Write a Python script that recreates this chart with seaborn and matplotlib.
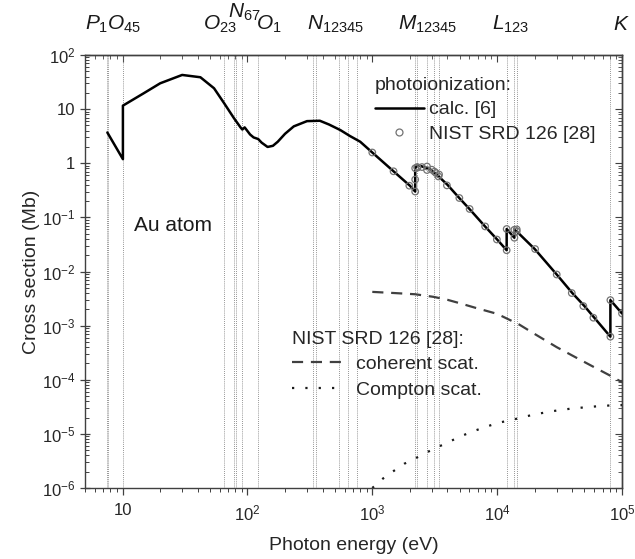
import matplotlib
matplotlib.use("Agg")
import matplotlib.pyplot as plt
from matplotlib.lines import Line2D
from matplotlib import ticker
import numpy as np
import pandas as pd
import seaborn as sns

# photoionization, calc. [6]
calc_energy = [7.55, 10.06, 10.06, 14.8, 20, 30, 42, 54, 65, 78, 88, 91, 95, 105, 112,
               122, 130, 145, 160, 175, 200, 235, 300, 380, 450, 555, 660, 800, 1000,
               1480, 2000, 2206, 2206, 2300, 2900, 3400, 4000, 5000, 6000, 8000, 10000,
               11919, 11919, 13734, 13734, 14353, 20000, 30000, 40000, 50000, 60000,
               80725, 80725, 100000]
calc_cs = [3.7, 1.19, 11.6, 19.7, 30, 42.8, 38.8, 24.3, 12.9, 6.8, 4.6, 4.2, 4.6, 3.4, 3.0,
           2.8, 2.4, 2.0, 2.1, 2.5, 3.5, 4.8, 6.0, 6.1, 5.2, 4.1, 3.2, 2.5, 1.58,
           0.71, 0.385, 0.30, 0.81, 0.93, 0.78, 0.57, 0.40, 0.225, 0.143, 0.068, 0.039,
           0.0247, 0.061, 0.042, 0.059, 0.055, 0.026, 0.0088, 0.004, 0.0023, 0.0014,
           0.000625, 0.00296, 0.00168]

# NIST SRD 126 [28] photoionization points
nist_energy = [1000, 1480, 1980, 2206, 2206, 2206, 2291, 2300, 2500, 2743, 2743, 3000,
               3148, 3240, 3390, 3425, 3960, 4980, 6020, 8017, 9950, 11919, 11919,
               13734, 13734, 14353, 14353, 20140, 30000, 39600, 49000, 59000, 80725,
               80725, 100000]
nist_cs = [1.58, 0.71, 0.385, 0.30, 0.50, 0.81, 0.85, 0.83, 0.85, 0.87, 0.75, 0.76,
           0.70, 0.66, 0.57, 0.62, 0.39, 0.228, 0.143, 0.068, 0.039, 0.0247, 0.061,
           0.042, 0.059, 0.055, 0.060, 0.026, 0.0088, 0.004, 0.0023, 0.0014, 0.000625,
           0.00296, 0.00168]

# coherent and Compton scattering
coh_energy = [1000, 1500, 2200, 3100, 4000, 5000, 6670, 10000, 15000, 20000, 30000,
              40000, 60000, 80000, 100000]
coh_cs = [4.2e-3, 4.0e-3, 3.8e-3, 3.4e-3, 3.0e-3, 2.6e-3, 2.14e-3, 1.65e-3, 1.05e-3,
          7.0e-4, 4.0e-4, 2.8e-4, 1.7e-4, 1.2e-4, 9e-5]
compton_energy = [1000, 1220, 1500, 1800, 2200, 2700, 3400, 4100, 5100, 6300, 7900,
                  10000, 15000, 20000, 30000, 40000, 60000, 80000, 100000]
compton_cs = [1.0e-6, 1.5e-6, 2.1e-6, 2.8e-6, 3.5e-6, 4.5e-6, 5.8e-6, 7.1e-6, 9.0e-6,
              1.1e-5, 1.32e-5, 1.58e-5, 1.95e-5, 2.3e-5, 2.7e-5, 2.95e-5, 3.2e-5,
              3.35e-5, 3.4e-5]

# ionization thresholds (eV)
edge_energy = [7.45, 7.65, 10.06, 64.6, 78.5, 80.5, 90.7, 122,
               335, 353, 546, 644, 759, 2206, 2291, 2743, 3148, 3425,
               11919, 13734, 14353, 80725]

shell_labels = [r"$\mathit{P}_{\mathrm{1}}\mathit{O}_{\mathrm{45}}$",
                r"$\mathit{O}_{\mathrm{23}}$",
                r"$\mathit{N}_{\mathrm{67}}$",
                r"$\mathit{O}_{\mathrm{1}}$",
                r"$\mathit{N}_{\mathrm{12345}}$",
                r"$\mathit{M}_{\mathrm{12345}}$",
                r"$\mathit{L}_{\mathrm{123}}$",
                r"$\mathit{K}$"]
shell_label_x = [5.0, 43.7, 70.5, 118, 302, 1615, 9120, 84700]
shell_label_y = [1.058, 1.058, 1.087, 1.058, 1.058, 1.058, 1.058, 1.058]

sns.set_style("ticks")
plt.rcParams["font.family"] = ["Liberation Sans", "DejaVu Sans"]
plt.rcParams["mathtext.fontset"] = "custom"
plt.rcParams["mathtext.rm"] = "Liberation Sans"
plt.rcParams["mathtext.it"] = "Liberation Sans:italic"
plt.rcParams["mathtext.bf"] = "Liberation Sans:bold"

fig = plt.figure(figsize=(6.35, 5.59), dpi=100)
ax = fig.add_axes([85 / 635, 1 - 488 / 559, 537 / 635, 433 / 559])
ax.set_xscale("log")
ax.set_yscale("log")

for e in edge_energy:
    ax.axvline(e, color="0.45", lw=0.6, ls=(0, (1, 1.5)), zorder=1)

sns.lineplot(x=calc_energy, y=calc_cs, ax=ax, color="black", lw=1.8,
             estimator=None, sort=False, zorder=3)
sns.scatterplot(x=nist_energy, y=nist_cs, ax=ax, marker="o", s=22,
                facecolor="none", edgecolor="0.45", linewidth=0.9, zorder=4)
sns.lineplot(x=coh_energy, y=coh_cs, ax=ax, color="0.25", lw=1.6,
             ls=(0, (5, 3.5)), estimator=None, sort=False)
sns.lineplot(x=compton_energy, y=compton_cs, ax=ax, color="0.1", lw=1.6,
             ls=(0, (1, 5)), estimator=None, sort=False)

ax.set_xlim(5, 1e5)
ax.set_ylim(1e-6, 1e2)


def decade_fmt(v, pos):
    n = int(round(np.log10(v)))
    if n == 0:
        return "1"
    if n == 1:
        return "10"
    return r"$10^{%d}$" % n


ax.xaxis.set_major_locator(ticker.LogLocator(base=10, numticks=10))
ax.xaxis.set_minor_locator(ticker.LogLocator(base=10, subs=np.arange(2, 10), numticks=20))
ax.yaxis.set_major_locator(ticker.LogLocator(base=10, numticks=20))
ax.yaxis.set_minor_locator(ticker.LogLocator(base=10, subs=np.arange(2, 10), numticks=40))
ax.xaxis.set_major_formatter(ticker.FuncFormatter(decade_fmt))
ax.yaxis.set_major_formatter(ticker.FuncFormatter(decade_fmt))
ax.xaxis.set_minor_formatter(ticker.NullFormatter())
ax.yaxis.set_minor_formatter(ticker.NullFormatter())

ax.tick_params(axis="both", which="major", labelsize=12, length=5, width=0.9, color="0.25")
ax.tick_params(axis="both", which="minor", length=3, width=0.7, color="0.25")
ax.tick_params(axis="x", which="both", direction="out", pad=6)
ax.tick_params(axis="y", which="major", direction="inout", length=7)
ax.tick_params(axis="y", which="minor", direction="in")

top = ax.secondary_xaxis("top")
top.xaxis.set_major_locator(ticker.LogLocator(base=10, numticks=10))
top.xaxis.set_minor_locator(ticker.LogLocator(base=10, subs=np.arange(2, 10), numticks=20))
top.tick_params(which="both", direction="in", labeltop=False, color="0.25")
top.tick_params(which="major", length=5)
top.tick_params(which="minor", length=3)
right = ax.secondary_yaxis("right")
right.yaxis.set_major_locator(ticker.LogLocator(base=10, numticks=20))
right.yaxis.set_minor_locator(ticker.LogLocator(base=10, subs=np.arange(2, 10), numticks=40))
right.tick_params(which="both", direction="in", labelright=False, color="0.25")
right.tick_params(which="major", length=5)
right.tick_params(which="minor", length=3)

for sp in list(ax.spines.values()) + [top.spines["top"], right.spines["right"]]:
    sp.set_color("0.25")
    sp.set_linewidth(1.0)

ax.set_xlabel("Photon energy (eV)", fontsize=14, color="0.15", labelpad=10)
ax.set_ylabel("Cross section (Mb)", fontsize=14, color="0.15", labelpad=1)

trans = ax.get_xaxis_transform()
for lab, xp, yp in zip(shell_labels, shell_label_x, shell_label_y):
    ax.text(xp, yp, lab, transform=trans, fontsize=15, ha="left", va="baseline",
            color="0.1", clip_on=False)

ax.text(12.25, 0.0705, "Au atom", fontsize=15, ha="left", va="center", color="0.1")

h_calc = Line2D([], [], color="black", lw=1.8)
h_nist = Line2D([], [], ls="none", marker="o", ms=5, mfc="none", mec="0.45", mew=0.9)
leg1 = ax.legend([h_calc, h_nist], ["calc. [6]", "NIST SRD 126 [28]"],
                 title="photoionization:", title_fontsize=14, fontsize=14,
                 alignment="left", frameon=False, loc="upper left",
                 bbox_to_anchor=(0.54, 0.949), borderaxespad=0, borderpad=0,
                 handlelength=2.5, handletextpad=0.3, labelspacing=0.35)
ax.add_artist(leg1)

h_coh = Line2D([], [], color="0.25", lw=1.6, ls=(0, (5, 3.5)))
h_comp = Line2D([], [], color="0.1", lw=1.6, ls=(0, (1, 5)))
ax.legend([h_coh, h_comp], ["coherent scat.", "Compton scat."],
          title="NIST SRD 126 [28]:", title_fontsize=14, fontsize=14,
          alignment="left", frameon=False, loc="upper left",
          bbox_to_anchor=(0.385, 0.363), borderaxespad=0, borderpad=0,
          handlelength=2.7, handletextpad=0.6, labelspacing=0.4)

fig.savefig("out.png", dpi=100)
